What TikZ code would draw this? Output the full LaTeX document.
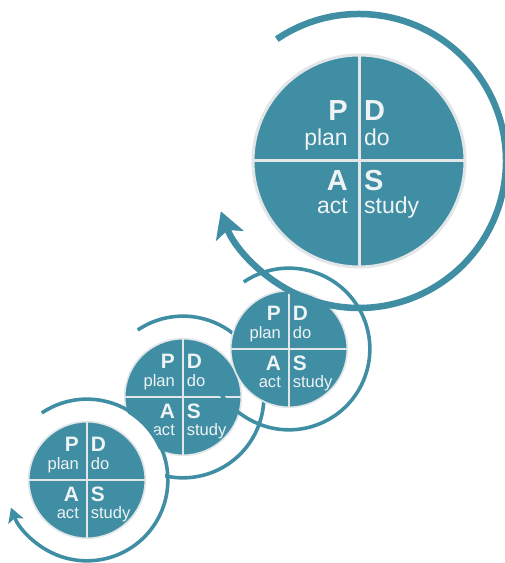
\documentclass[tikz,border=0pt]{standalone}
\usepackage{fontspec}
\setmainfont{Liberation Sans}
\usetikzlibrary{arrows.meta}

\definecolor{pdsateal}{RGB}{64,142,163}
\definecolor{pdsarim}{RGB}{226,230,232}
\definecolor{pdsatext}{RGB}{238,243,245}

\tikzset{
  letter/.style={text=pdsatext, inner sep=0pt,
    font=\bfseries\fontsize{\pdsaBig}{\pdsaBig}\selectfont},
  word/.style={text=pdsatext, inner sep=0pt,
    font=\fontsize{\pdsaWord}{\pdsaWord}\selectfont},
  % one PDSA wheel: #1 scales the geometry, #2 the lettering
  pics/pdsa/.style n args={2}{code={
    \pgfmathsetmacro\pdsaR{106*#1}
    \pgfmathsetmacro\pdsaArc{147*#1}
    \pgfmathsetmacro\pdsaBig{29*#2}
    \pgfmathsetmacro\pdsaWord{23*#2}
    \draw[pdsateal, line width={6.5pt*#1},
          -{Stealth[length=26pt,width=29pt,inset=6pt,scale=#1]}]
      (124:\pdsaArc) arc[start angle=124, end angle=-160, radius=\pdsaArc];
    \fill[pdsateal, draw=pdsarim, line width={3pt*#1}] (0,0) circle[radius=\pdsaR];
    \draw[pdsarim, line width={3pt*#1}] (0,-\pdsaR) -- (0,\pdsaR) (-\pdsaR,0) -- (\pdsaR,0);
    \node[letter, anchor=base east] (-P) at ({-11*#2},{40*#2}) {P};
    \node[letter, anchor=base west] (-D) at ({5*#2},{40*#2}) {D};
    \node[word, anchor=base east] (-plan) at ({-11*#2},{15*#2}) {plan};
    \node[word, anchor=base west] (-do) at ({5*#2},{15*#2}) {do};
    \node[letter, anchor=base east] (-A) at ({-11*#2},{-30*#2}) {A};
    \node[letter, anchor=base west] (-S) at ({5*#2},{-30*#2}) {S};
    \node[word, anchor=base east] (-act) at ({-11*#2},{-53*#2}) {act};
    \node[word, anchor=base west] (-study) at ({5*#2},{-53*#2}) {study};
  }}
}

\begin{document}
\begin{tikzpicture}[x=1pt, y=1pt]
  \useasboundingbox[fill=white] (0,0) rectangle (505,563);

  \coordinate (c2) at (183,166);
  \coordinate (c1) at (87,83);
  \coordinate (c3) at (289,214);
  \coordinate (c4) at (359,402);

  \pic (second) at (c2) {pdsa={0.55}{0.72}};
  \fill[white] (c1) circle[radius=78];
  \pic (first) at (c1) {pdsa={0.55}{0.72}};
  \pic (third) at (c3) {pdsa={0.55}{0.72}};
  \pic (main) at (c4) {pdsa={1}{1}};
\end{tikzpicture}
\end{document}
